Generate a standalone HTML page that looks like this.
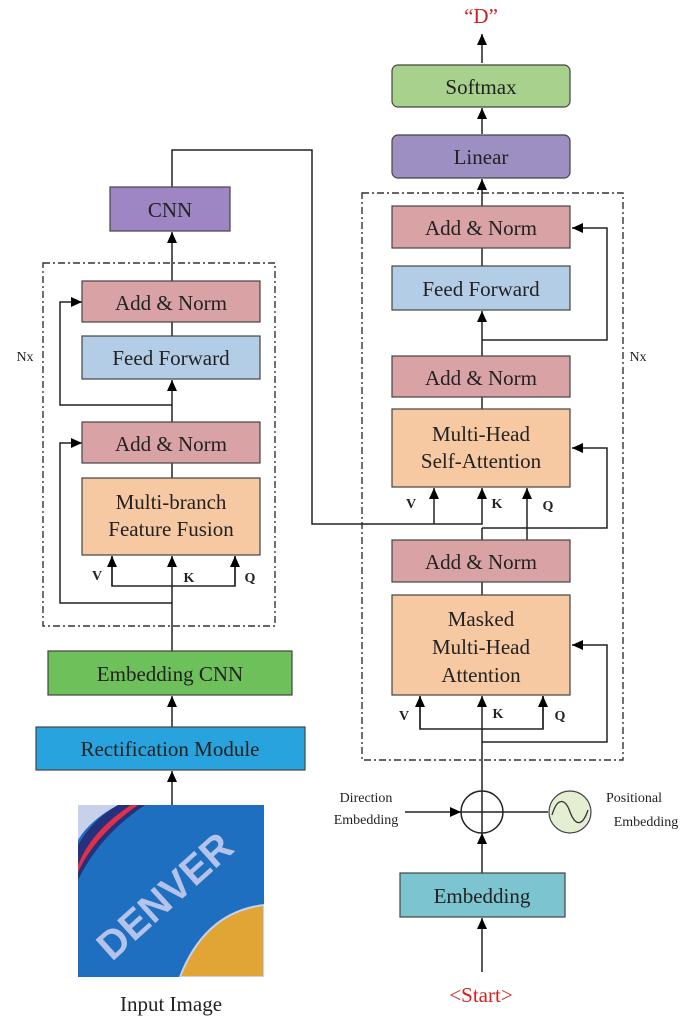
<!DOCTYPE html>
<html><head><meta charset="utf-8"><style>html,body{margin:0;padding:0;background:#fff}svg{display:block}</style></head><body>
<svg width="685" height="1023" viewBox="0 0 685 1023" xmlns="http://www.w3.org/2000/svg" font-family="Liberation Serif, serif">
<defs><marker id="b" markerWidth="12" markerHeight="12" refX="11" refY="5" orient="auto" markerUnits="userSpaceOnUse"><path d="M0,0 L11,5 L0,10z" fill="#000"/></marker>
<clipPath id="c"><rect x="78" y="805" width="186" height="172"/></clipPath></defs>
<g stroke="#333" stroke-width="1.4" fill="none" stroke-dasharray="7,3,2,3">
<rect x="43" y="263" width="232" height="363"/>
<rect x="362" y="193" width="261" height="567"/>
</g>
<g stroke="#222" stroke-width="1.5" fill="none">
<line x1="482" y1="63" x2="482" y2="34" marker-end="url(#b)"/>
<line x1="482" y1="134" x2="482" y2="108" marker-end="url(#b)"/>
<line x1="482" y1="206" x2="482" y2="179" marker-end="url(#b)"/>
<line x1="482" y1="266" x2="482" y2="248"/>
<line x1="482" y1="356" x2="482" y2="311" marker-end="url(#b)"/>
<polyline points="482,340 607,340 607,228 572,228" marker-end="url(#b)"/>
<line x1="482" y1="409" x2="482" y2="397"/>
<line x1="482" y1="540" x2="482" y2="528"/>
<polyline points="482,528 607,528 607,448 572,448" marker-end="url(#b)"/>
<line x1="527" y1="540" x2="527" y2="488" marker-end="url(#b)"/>
<polyline points="172,187 172,150 312,150 312,524 482,524 482,488" marker-end="url(#b)"/>
<line x1="434" y1="524" x2="434" y2="488" marker-end="url(#b)"/>
<line x1="482" y1="595" x2="482" y2="582"/>
<line x1="482" y1="791" x2="482" y2="696" marker-end="url(#b)"/>
<polyline points="420,696 420,729 543,729 543,696"/>
<line x1="420" y1="729" x2="420" y2="696" marker-end="url(#b)"/>
<line x1="543" y1="729" x2="543" y2="696" marker-end="url(#b)"/>
<polyline points="482,742 607,742 607,645 572,645" marker-end="url(#b)"/>
<circle cx="482" cy="812" r="21" fill="#fff"/>
<line x1="461" y1="812" x2="503" y2="812"/>
<line x1="482" y1="791" x2="482" y2="833"/>
<line x1="405" y1="812" x2="461" y2="812" marker-end="url(#b)"/>
<line x1="503" y1="812" x2="548" y2="812"/>
<line x1="482" y1="873" x2="482" y2="833" marker-end="url(#b)"/>
<line x1="482" y1="972" x2="482" y2="918" marker-end="url(#b)"/>
<line x1="172" y1="281" x2="172" y2="232" marker-end="url(#b)"/>
<line x1="172" y1="336" x2="172" y2="322"/>
<line x1="172" y1="422" x2="172" y2="380" marker-end="url(#b)"/>
<polyline points="172,405 60,405 60,302 82,302" marker-end="url(#b)"/>
<line x1="172" y1="478" x2="172" y2="463"/>
<line x1="172" y1="651" x2="172" y2="556" marker-end="url(#b)"/>
<polyline points="112,556 112,586 235,586 235,556"/>
<line x1="112" y1="586" x2="112" y2="556" marker-end="url(#b)"/>
<line x1="235" y1="586" x2="235" y2="556" marker-end="url(#b)"/>
<polyline points="172,603 60,603 60,443 82,443" marker-end="url(#b)"/>
<line x1="172" y1="727" x2="172" y2="696" marker-end="url(#b)"/>
<line x1="172" y1="805" x2="172" y2="771" marker-end="url(#b)"/>
</g>
<g stroke="#444" stroke-width="1.2">
<rect x="392" y="65" width="178" height="42" rx="6" fill="#a9d18e"/>
<rect x="392" y="135" width="178" height="43" rx="6" fill="#9e8fc2"/>
<rect x="392" y="206" width="178" height="42" fill="#d9a3a6"/>
<rect x="392" y="266" width="178" height="44" fill="#b4cde6"/>
<rect x="392" y="356" width="178" height="41" fill="#d9a3a6"/>
<rect x="392" y="409" width="178" height="78" fill="#f6c9a2"/>
<rect x="392" y="540" width="178" height="42" fill="#d9a3a6"/>
<rect x="392" y="595" width="178" height="100" fill="#f6c9a2"/>
<rect x="400" y="873" width="165" height="44" fill="#7cc4d0"/>
<circle cx="570" cy="812" r="21" fill="#e3eed3"/>
<rect x="110" y="187" width="120" height="44" fill="#9e86c4"/>
<rect x="82" y="281" width="178" height="41" fill="#d9a3a6"/>
<rect x="82" y="336" width="178" height="43" fill="#b4cde6"/>
<rect x="82" y="422" width="178" height="41" fill="#d9a3a6"/>
<rect x="82" y="478" width="178" height="77" fill="#f6c9a2"/>
<rect x="48" y="651" width="244" height="44" fill="#6ec05a"/>
<rect x="36" y="727" width="269" height="43" fill="#29a3de"/>
</g>
<path d="M552,815 C558,795 566,800 570,812 C575,825 582,828 588,810" stroke="#333" stroke-width="1.3" fill="none"/>
<g clip-path="url(#c)">
<rect x="78" y="805" width="186" height="172" fill="#1e6fc0"/>
<path d="M78,805 L118,805 Q90,820 78,840z" fill="#c8d0ea"/>
<path d="M118,805 L145,805 Q100,835 78,880 L78,845 Q92,820 118,805z" fill="#25317a"/>
<path d="M131,805 L138,805 Q95,835 78,872 L78,865 Q92,830 131,805z" fill="#e0304a"/>
<path d="M264,905 Q205,912 180,977 L264,977z" fill="#e0a535" stroke="#c8d0ea" stroke-width="2"/>
<text x="0" y="0" transform="translate(112,962) rotate(-42)" font-family="Liberation Sans, sans-serif" font-weight="bold" font-size="40" fill="#b5c3ea">DENVER</text>
</g>
<g font-size="21" text-anchor="middle" fill="#222">
<text x="481" y="94">Softmax</text>
<text x="481" y="164">Linear</text>
<text x="481" y="235">Add &amp; Norm</text>
<text x="481" y="296">Feed Forward</text>
<text x="481" y="385">Add &amp; Norm</text>
<text x="481" y="441">Multi-Head</text>
<text x="481" y="468">Self-Attention</text>
<text x="481" y="569">Add &amp; Norm</text>
<text x="481" y="626">Masked</text>
<text x="481" y="654">Multi-Head</text>
<text x="481" y="682">Attention</text>
<text x="482" y="903">Embedding</text>
<text x="170" y="217">CNN</text>
<text x="171" y="310">Add &amp; Norm</text>
<text x="171" y="365">Feed Forward</text>
<text x="171" y="451">Add &amp; Norm</text>
<text x="171" y="509">Multi-branch</text>
<text x="171" y="536">Feature Fusion</text>
<text x="170" y="681">Embedding CNN</text>
<text x="170" y="756">Rectification Module</text>
<text x="171" y="1011">Input Image</text>
<text x="481" y="1002" fill="#d02020">&lt;Start&gt;</text>
<text x="481" y="23" fill="#d02020">“D”</text>
</g>
<g font-size="14" fill="#222" text-anchor="middle">
<text x="25" y="361">Nx</text>
<text x="638" y="361">Nx</text>
<text x="97" y="580" font-weight="bold">V</text>
<text x="189" y="582" font-weight="bold">K</text>
<text x="250" y="582" font-weight="bold">Q</text>
<text x="411" y="508" font-weight="bold">V</text>
<text x="497" y="508" font-weight="bold">K</text>
<text x="548" y="510" font-weight="bold">Q</text>
<text x="404" y="720" font-weight="bold">V</text>
<text x="498" y="718" font-weight="bold">K</text>
<text x="560" y="720" font-weight="bold">Q</text>
<text x="366" y="802">Direction</text>
<text x="366" y="824">Embedding</text>
<text x="634" y="802">Positional</text>
<text x="646" y="826">Embedding</text>
</g>
</svg>
</body></html>
